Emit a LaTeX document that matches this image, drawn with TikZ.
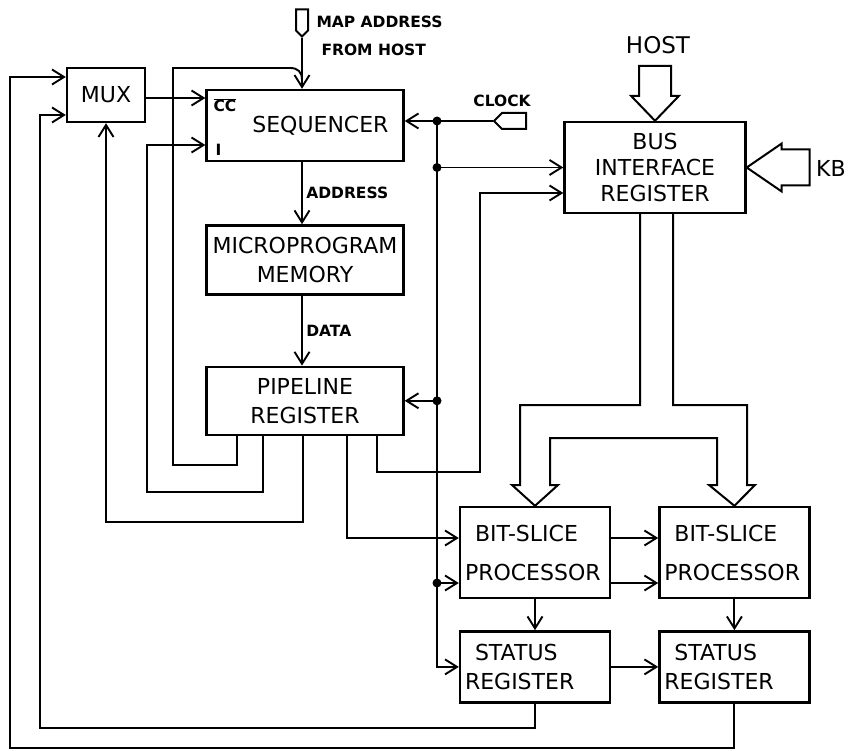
\documentclass[tikz,border=0pt]{standalone}
\usepackage{fontspec}
\setmainfont{DejaVu Sans}
\usetikzlibrary{positioning, shapes.symbols, arrows.meta, calc}

\begin{document}
\begin{tikzpicture}[x=1pt, y=-1pt, >={Straight Barb[length=12pt,width=15pt]},
  box/.style={draw, line width=2.4pt, align=center, inner sep=4pt, font=\fontsize{22}{29}\selectfont},
  lbl/.style={font=\bfseries\fontsize{15.5}{18}\selectfont, align=left},
  big/.style={font=\fontsize{23}{26}\selectfont},
  term/.style={draw, line width=2pt, signal, inner sep=0pt},
  wire/.style={line width=1.9pt},
  hollow/.style={line width=2pt, line join=miter},
  dot/.style={circle, fill, inner sep=0pt, minimum size=9pt}]
  \useasboundingbox (0,0) rectangle (850,751);

  % blocks
  \node[box, minimum width=78pt, minimum height=54pt] (mux) at (106,95) {MUX};
  \node[box, minimum width=197pt, minimum height=71pt, text width=167pt, align=right, inner xsep=15pt] (seq) at (305,125.5) {SEQUENCER};
  \node[box, minimum width=197pt, minimum height=69pt, below=62pt of seq] (mem) {MICROPROGRAM\\MEMORY};
  \node[box, minimum width=197pt, minimum height=68pt, below=70pt of mem] (pipe) {PIPELINE\\REGISTER};
  \node[box, minimum width=181pt, minimum height=91pt, font=\fontsize{22}{26}\selectfont] (bus) at (655,167.5) {BUS\\INTERFACE\\REGISTER};
  \node[box, minimum width=150pt, minimum height=91pt, text width=140pt, align=left, inner xsep=5pt] (bsp1) at (535,552.5) {\hspace{10pt}BIT-SLICE\\[10pt]PROCESSOR};
  \node[box, minimum width=150pt, minimum height=91pt, text width=140pt, align=left, inner xsep=5pt, right=47pt of bsp1] (bsp2) {\hspace{10pt}BIT-SLICE\\[10pt]PROCESSOR};
  \node[box, minimum width=150pt, minimum height=71pt, text width=140pt, align=left, inner xsep=5pt, below=31pt of bsp1] (st1) {\hspace{10pt}STATUS\\REGISTER};
  \node[box, minimum width=150pt, minimum height=71pt, text width=140pt, align=left, inner xsep=5pt, below=31pt of bsp2] (st2) {\hspace{10pt}STATUS\\REGISTER};

  % terminals and labels
  \node[term, signal to=south, minimum width=12pt, minimum height=21pt] (mapin) at (302,20) {};
  \node[term, signal to=west, minimum width=32pt, minimum height=16pt] (clk) at (514,121) {};
  \node[lbl, anchor=west, font=\bfseries\fontsize{15.5}{28}\selectfont] (maptxt) at (313,36) {MAP ADDRESS\\\hspace{5pt}FROM HOST};
  \node[lbl] (clktxt) at (502,101) {CLOCK};
  \node[lbl, anchor=west] (cctxt) at (210,105) {$\overline{\mbox{CC}}$};
  \node[lbl, anchor=west] (itxt) at (212,150) {I};
  \node[big] (hosttxt) at (658,45) {HOST};
  \node[big, anchor=west, inner sep=1pt, font=\fontsize{22}{24}\selectfont] (kbtxt) at (815,168) {KB};

  % sequencer path
  \draw[wire,->] (mapin.south) -- (mapin.south |- seq.north);
  \draw[wire,->] (mux.east |- 0,98) -- (seq.west |- 0,98);
  \draw[wire,->] (seq.south -| mapin) -- (mem.north -| mapin) node[lbl, midway, right] {ADDRESS};
  \draw[wire,->] (mem.south -| mapin) -- (pipe.north -| mapin) node[lbl, midway, right] {DATA};

  % pipeline feedback
  \draw[wire] (pipe.south -| 237,0) |- (173,465) |- (290,68) .. controls (298,68) and (302,72) .. (302,80);
  \draw[wire,->] (pipe.south -| 263,0) |- (147,492) |- (seq.west |- 0,145);
  \draw[wire,->] (pipe.south -| 303,0) |- (mux.south |- 0,522) -- (mux.south);
  \draw[wire,->] (pipe.south -| 347,0) |- (bsp1.west |- 0,538);
  \draw[wire,->] (pipe.south -| 377,0) |- (480,472) |- (bus.west |- 0,193);

  % clock
  \coordinate (j1) at (clk.west -| 437,0);
  \draw[wire,->] (clk.west) -- (clk.west -| seq.east);
  \draw[wire,->] (j1) |- (st1.west);
  \draw[wire,->] (j1 |- bus.west) -- (bus.west);
  \draw[wire,->] (j1 |- pipe.east) -- (pipe.east);
  \draw[wire,->] (j1 |- 0,583) -- (bsp1.west |- 0,583);
  \node[dot] (d1) at (j1) {};
  \node[dot] (d2) at (j1 |- bus.west) {};
  \node[dot] (d3) at (j1 |- pipe.east) {};
  \node[dot] (d4) at (j1 |- 0,583) {};

  % processors and status
  \draw[wire,->] (bsp1.east |- 0,538) -- (bsp2.west |- 0,538);
  \draw[wire,->] (bsp1.east |- 0,583) -- (bsp2.west |- 0,583);
  \draw[wire,->] (bsp1) -- (st1);
  \draw[wire,->] (bsp2) -- (st2);
  \draw[wire,->] (st1) -- (st2);
  \draw[wire,->] (st1.south) |- (40,728) |- (mux.west |- 0,115);
  \draw[wire,->] (st2.south) |- (10,748) |- (mux.west |- 0,77);

  % hollow bus arrows
  \draw[hollow] (bus.north) -- ++(-24,-25) -- ++(8,0) -- ++(0,-30) -- ++(32,0) -- ++(0,30) -- ++(8,0) -- cycle;
  \draw[hollow] (bus.east) -- ++(35,-24) -- ++(0,6) -- ++(28,0) -- ++(0,36) -- ++(-28,0) -- ++(0,6) -- cycle;
  \draw[hollow] ($(bus.south)+(-15,0)$) |- (520,405) -- (520,485) -- (512,485) -- (bsp1.north) -- (558,485) -- (550,485)
    |- (717,438) -- (717,485) -- (709,485) -- (bsp2.north) -- (755,485) -- (747,485) |- (673,405) -- ($(bus.south)+(18,0)$);
\end{tikzpicture}
\end{document}
